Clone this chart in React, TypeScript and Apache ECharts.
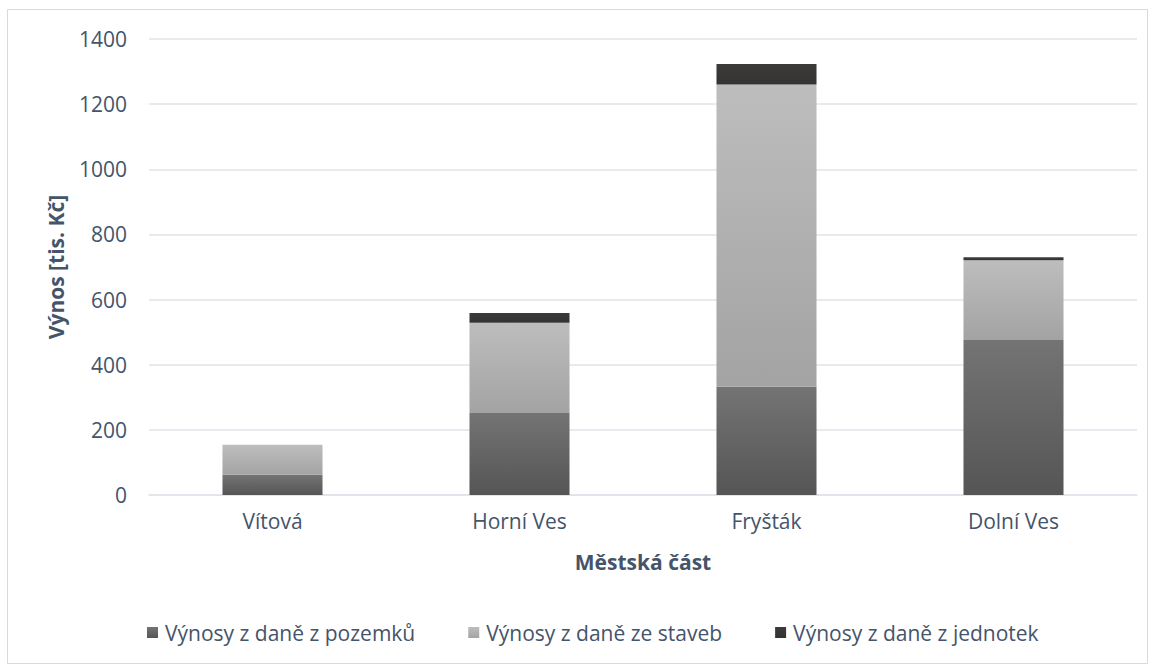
import React, { useEffect, useRef } from "react";
import * as echarts from "echarts";

const categories = ["Vítová", "Horní Ves", "Fryšták", "Dolní Ves"];
const pozemky = [62, 252, 332, 476];
const stavby = [92, 277, 928, 245];
const jednotky = [0, 30, 63, 9];
const seriesNames = [
  "Výnosy z daně z pozemků",
  "Výnosy z daně ze staveb",
  "Výnosy z daně z jednotek",
];
const yTicks = { min: 0, max: 1400, interval: 200 };

const txt = "#44546A";
const font = "'Open Sans', sans-serif";
const fs = 21;

const grad = (top: string, bottom: string) => ({
  type: "linear",
  x: 0,
  y: 0,
  x2: 0,
  y2: 1,
  colorStops: [
    { offset: 0, color: top },
    { offset: 1, color: bottom },
  ],
});

export default function App() {
  const ref = useRef<HTMLDivElement>(null);
  useEffect(() => {
    document.body.style.margin = "0";
    const chart = echarts.init(ref.current!, null, { renderer: "svg" });
    const barBase = {
      type: "bar",
      stack: "total",
      barWidth: "40.5%",
    };
    chart.setOption({
      animation: false,
      backgroundColor: "#ffffff",
      textStyle: { fontFamily: font },
      graphic: [
        {
          type: "rect",
          shape: { x: 7.5, y: 9.5, width: 1140, height: 654 },
          style: { fill: "none", stroke: "#d9d9d9", lineWidth: 1 },
          silent: true,
        },
      ],
      grid: { left: 149, right: 18, top: 39, bottom: 171 },
      legend: {
        left: 142,
        top: 617,
        itemWidth: 11,
        itemHeight: 11,
        itemGap: 53,
        icon: "rect",
        textStyle: { color: txt, fontSize: fs, fontFamily: font, padding: [0, 0, 0, 2] },
        data: seriesNames,
      },
      xAxis: {
        type: "category",
        data: categories,
        axisTick: { show: false },
        axisLine: { lineStyle: { color: "#dfe3ea", width: 1.5 } },
        axisLabel: { color: txt, fontSize: fs, fontFamily: font, margin: 15 },
        name: "Městská část",
        nameLocation: "middle",
        nameGap: 56,
        nameTextStyle: { color: txt, fontSize: fs, fontWeight: "bold", fontFamily: font },
      },
      yAxis: {
        type: "value",
        min: yTicks.min,
        max: yTicks.max,
        interval: yTicks.interval,
        axisLine: { show: false },
        axisTick: { show: false },
        splitLine: { lineStyle: { color: "#e0e3ea", width: 1.5 } },
        axisLabel: {
          color: txt,
          fontSize: fs,
          fontFamily: font,
          margin: 22,
          formatter: (v: number) => String(v),
        },
        name: "Výnos [tis. Kč]",
        nameLocation: "middle",
        nameGap: 83,
        nameTextStyle: { color: txt, fontSize: fs, fontWeight: "bold", fontFamily: font },
      },
      series: [
        {
          ...barBase,
          name: seriesNames[0],
          data: pozemky,
          itemStyle: { color: grad("#747474", "#555555") },
        },
        {
          ...barBase,
          name: seriesNames[1],
          data: stavby,
          itemStyle: { color: grad("#bdbdbd", "#a3a3a3") },
        },
        {
          ...barBase,
          name: seriesNames[2],
          data: jednotky,
          itemStyle: { color: grad("#3c3b39", "#333333") },
        },
      ],
    });
    return () => chart.dispose();
  }, []);
  return <div ref={ref} style={{ width: 1155, height: 666 }} />;
}
